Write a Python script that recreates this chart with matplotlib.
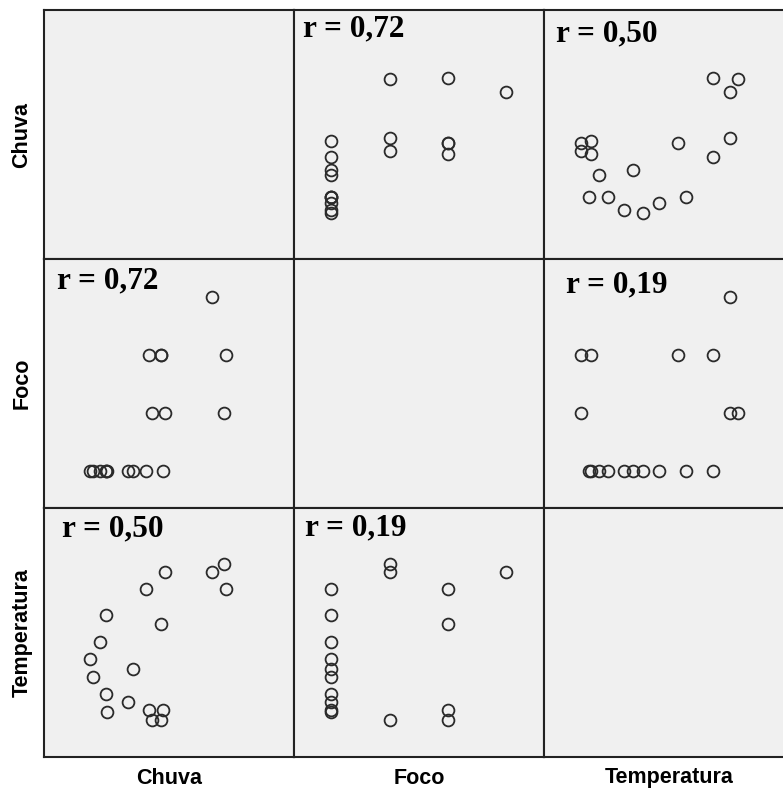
import numpy as np
import matplotlib
matplotlib.use("Agg")
import matplotlib.pyplot as plt

# scatter matrix data (one entry per observation)
chuva = [213, 232, 144, 124, 234, 137, 137, 120, 140, 115, 88, 96, 56, 55, 36, 31, 46, 55]
foco = [3, 1, 1, 1, 2, 2, 2, 2, 0, 0, 0, 0, 0, 0, 0, 0, 0, 0]
temperatura = [30.9, 31.4, 30.9, 22.0, 29.9, 27.8, 22.0, 22.6, 22.6, 29.9,
               23.1, 25.1, 22.5, 23.6, 24.6, 25.7, 26.7, 28.3]

names = ["Chuva", "Foco", "Temperatura"]
r_labels = {(0, 1): "r = 0,72", (0, 2): "r = 0,50",
            (1, 0): "r = 0,72", (1, 2): "r = 0,19",
            (2, 0): "r = 0,50", (2, 1): "r = 0,19"}

data = [np.array(chuva), np.array(foco), np.array(temperatura)]
limits = [(-38, 336.5), (-0.64, 3.65), (19.8, 34.75)]

W, H = 783, 792
fig = plt.figure(figsize=(W / 100, H / 100), dpi=100)
fig.patch.set_facecolor("white")

col_x = [44, 294, 544]
row_y = [10, 259, 508]
pw, ph = 250, 249

# text offsets in pixels (left, baseline below panel top)
txt_off = {(0, 1): (9, 26), (0, 2): (12, 31), (1, 0): (13, 29),
           (1, 2): (22, 33), (2, 0): (18, 28), (2, 1): (11, 27)}

for i in range(3):
    for j in range(3):
        ax = fig.add_axes([col_x[j] / W, 1 - (row_y[i] + ph) / H, pw / W, ph / H])
        ax.set_facecolor("#f0f0f0")
        ax.set_xlim(limits[j])
        ax.set_ylim(limits[i])
        ax.set_xticks([])
        ax.set_yticks([])
        for sp in ax.spines.values():
            sp.set_linewidth(1.5)
            sp.set_color("#222222")
        if i != j:
            ax.plot(data[j], data[i], "o", ls="none", mfc="none",
                    mec="#2a2a2a", ms=8.5, mew=1.3, clip_on=True)
            dx, dy = txt_off[(i, j)]
            ax.annotate(r_labels[(i, j)], xy=(0, 1), xycoords="axes fraction",
                        xytext=(dx * 0.72, -dy * 0.72), textcoords="offset points",
                        ha="left", va="baseline", fontsize=22.5, fontweight="bold",
                        family="Liberation Serif", color="black")

# variable names
for k, name in enumerate(names):
    fig.text((col_x[k] + pw / 2) / W, 1 - 778 / H, name, ha="center", va="center",
             fontsize=15.5, fontweight="bold", family="Liberation Sans")
    fig.text(22 / W, 1 - (row_y[k] + ph / 2) / H, name, ha="center", va="center",
             rotation=90, fontsize=15.5, fontweight="bold", family="Liberation Sans")

fig.savefig("out.png", dpi=100)
